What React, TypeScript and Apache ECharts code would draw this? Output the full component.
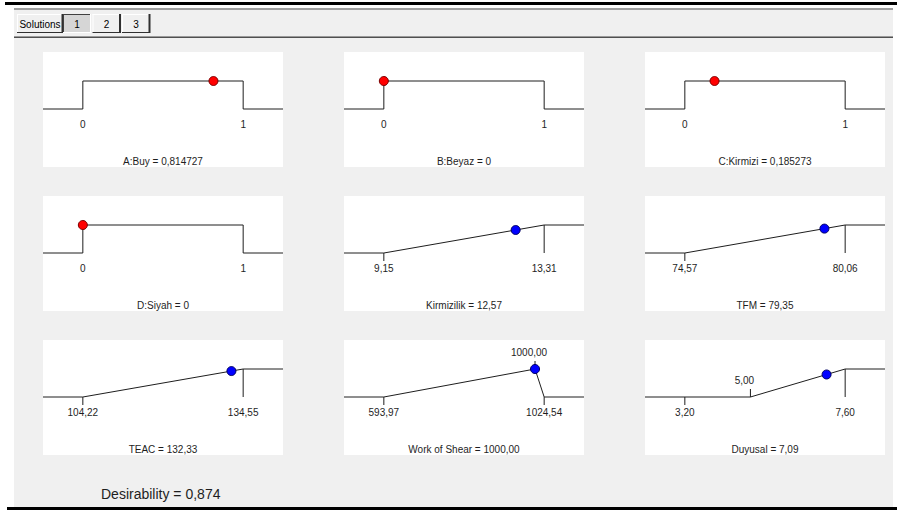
import React, { useEffect, useRef } from "react";
import * as echarts from "echarts";

// Optimisation result: one ramp per factor / response
const panelNames = ["A:Buy", "B:Beyaz", "C:Kirmizi", "D:Siyah", "Kirmizilik", "TFM", "TEAC", "Work of Shear", "Duyusal"];
const isFactor = [true, true, true, true, false, false, false, false, false];
const rangeLow = [0, 0, 0, 0, 9.15, 74.57, 104.22, 593.97, 3.2];
const rangeHigh = [1, 1, 1, 1, 13.31, 80.06, 134.55, 1024.54, 7.6];
const goalTypes = ["in range", "in range", "in range", "in range", "maximize", "maximize", "maximize", "target", "maximize"];
const goalLower = [0, 0, 0, 0, 9.15, 74.57, 104.22, 593.97, 5.0];
const goalUpper = [1, 1, 1, 1, 13.31, 80.06, 134.55, 1024.54, 7.6];
const goalTarget: (number | null)[] = [null, null, null, null, null, null, null, 1000.0, null];
const solutionValues = [0.814727, 0, 0.185273, 0, 12.57, 79.35, 132.33, 1000.0, 7.09];
const overallDesirability = 0.874;
const solutionTabs = ["1", "2", "3"];
const activeTab = 0;

// panel layout
const PANEL_COLS = [43, 344, 645];
const PANEL_ROWS = [52, 196, 340];
const PANEL_W = 240;
const PANEL_H = 115;
const BASE_Y = 57; // row of d = 0 inside a panel
const TOP_Y = 29; // row of d = 1 inside a panel
const LEAD = 40; // px from panel edge to range low
const SPAN = 161; // px between range low and range high
const UNIT = BASE_Y - TOP_Y;
const TICK = 8 / UNIT;

const FONT = '"Liberation Sans", Arial, sans-serif';
const INK = "#1e1e1e";

const comma = (s: string) => s.replace(".", ",");
const fmtValue = (i: number, v: number) => (isFactor[i] ? comma(String(v)) : comma(v.toFixed(2)));

const clamp01 = (v: number) => Math.max(0, Math.min(1, v));

function desirabilityOf(i: number, v: number): number {
  const L = goalLower[i];
  const U = goalUpper[i];
  if (goalTypes[i] === "in range") return v >= L && v <= U ? 1 : 0;
  if (goalTypes[i] === "maximize") return clamp01((v - L) / (U - L));
  const T = goalTarget[i] as number;
  return v <= T ? clamp01((v - L) / (T - L)) : clamp01((U - v) / (U - T));
}

function buildOption() {
  const grid: any[] = [];
  const xAxis: any[] = [];
  const yAxis: any[] = [];
  const series: any[] = [];
  const graphic: any[] = [];

  // window frame and toolbar
  graphic.push(
    { type: "rect", z: -20, shape: { x: 5, y: 2, width: 892, height: 3 }, style: { fill: "#000" } },
    { type: "rect", z: -20, shape: { x: 14, y: 8, width: 879, height: 2 }, style: { fill: "#a0a0a0" } },
    { type: "rect", z: -20, shape: { x: 14, y: 10, width: 879, height: 26 }, style: { fill: "#f0f0f0" } },
    { type: "rect", z: -20, shape: { x: 14, y: 36, width: 879, height: 1 }, style: { fill: "#9a9a9a" } },
    { type: "rect", z: -20, shape: { x: 14, y: 37, width: 879, height: 1 }, style: { fill: "#505050" } },
    { type: "rect", z: -20, shape: { x: 14, y: 38, width: 879, height: 469 }, style: { fill: "#f0f0f0" } },
    { type: "rect", z: -20, shape: { x: 7, y: 507, width: 890, height: 3 }, style: { fill: "#000" } }
  );

  const button = (x: number, y: number, w: number, h: number, label: string, pressed: boolean) => {
    const light = pressed ? "#404040" : "#ffffff";
    const dark = pressed ? "#ffffff" : "#303030";
    graphic.push(
      { type: "rect", z: -10, shape: { x, y, width: w, height: h }, style: { fill: pressed ? "#d6d6d6" : "#f0f0f0" } },
      { type: "line", z: -9, shape: { x1: x, y1: y + 0.5, x2: x + w, y2: y + 0.5 }, style: { stroke: light, lineWidth: 1 } },
      { type: "line", z: -9, shape: { x1: x + 0.5, y1: y, x2: x + 0.5, y2: y + h }, style: { stroke: light, lineWidth: 1 } },
      { type: "line", z: -9, shape: { x1: x, y1: y + h - 0.5, x2: x + w, y2: y + h - 0.5 }, style: { stroke: dark, lineWidth: 1 } },
      { type: "line", z: -9, shape: { x1: x + w - 0.5, y1: y, x2: x + w - 0.5, y2: y + h }, style: { stroke: dark, lineWidth: pressed ? 1 : 2 } },
      {
        type: "text",
        z: -8,
        x: x + w / 2,
        y: y + h / 2 + 0.5,
        style: { text: label, font: `10px ${FONT}`, fill: "#000", textAlign: "center", align: "center", textVerticalAlign: "middle", verticalAlign: "middle" },
      }
    );
  };
  button(17, 14, 46, 19, "Solutions", false);
  solutionTabs.forEach((t, k) => button(63 + k * 29.5, 14, 28, 19, t, k === activeTab));

  panelNames.forEach((name, i) => {
    const left = PANEL_COLS[i % 3];
    const top = PANEL_ROWS[Math.floor(i / 3)];
    const lo = rangeLow[i];
    const hi = rangeHigh[i];
    const u = (hi - lo) / SPAN;
    const xMin = lo - LEAD * u;
    const xMax = lo + (PANEL_W - LEAD + 1) * u;
    const L = goalLower[i];
    const U = goalUpper[i];
    const T = goalTarget[i];

    grid.push({
      left,
      top,
      width: PANEL_W,
      height: PANEL_H,
      show: true,
      backgroundColor: "#ffffff",
      borderWidth: 0,
      borderColor: "transparent",
      containLabel: false,
      outerBoundsMode: "none",
    });
    // labels sit just under the d = 0 baseline
    xAxis.push({
      gridIndex: i,
      type: "value",
      position: "bottom",
      min: xMin,
      max: xMax,
      axisLine: { show: false, onZero: false },
      axisTick: { show: false },
      splitLine: { show: false },
      axisLabel: {
        customValues: [lo, hi],
        formatter: (v: number) => fmtValue(i, v),
        margin: 10 - (PANEL_H - BASE_Y),
        fontSize: 10,
        fontFamily: FONT,
        color: INK,
        hideOverlap: false,
      },
    });
    yAxis.push({ gridIndex: i, type: "value", show: false, min: -(PANEL_H - BASE_Y) / UNIT, max: 1 + TOP_Y / UNIT });

    // desirability ramp
    let ramp: number[][];
    if (goalTypes[i] === "in range") {
      ramp = [[xMin, 0], [L, 0], [L, 1], [U, 1], [U, 0], [xMax, 0]];
    } else if (goalTypes[i] === "maximize") {
      ramp = [[xMin, 0], [L, 0], [U, 1], [xMax, 1]];
    } else {
      ramp = [[xMin, 0], [L, 0], [T as number, 1], [U, 0], [xMax, 0]];
    }
    const lineBase = {
      type: "line",
      xAxisIndex: i,
      yAxisIndex: i,
      symbol: "none",
      silent: true,
      clip: false,
      lineStyle: { color: INK, width: 1 },
    };
    series.push({ ...lineBase, data: ramp });

    // limit ticks
    const ticks: number[][][] = [];
    const upLabels: { at: number[]; text: string }[] = [];
    if (goalTypes[i] === "maximize") {
      ticks.push([[lo, 0], [lo, -TICK]]);
      if (L > lo) {
        ticks.push([[L, 0], [L, TICK]]);
        upLabels.push({ at: [L, TICK], text: fmtValue(i, L) });
      }
      ticks.push([[U, 1], [U, 0]]);
    } else if (goalTypes[i] === "target") {
      ticks.push([[lo, 0], [lo, -TICK]]);
      ticks.push([[hi, 0], [hi, -TICK]]);
      ticks.push([[T as number, 1], [T as number, 1 + TICK]]);
      upLabels.push({ at: [T as number, 1 + TICK], text: fmtValue(i, T as number) });
    }
    ticks.forEach((seg) => series.push({ ...lineBase, data: seg }));
    if (upLabels.length) {
      series.push({
        type: "scatter",
        xAxisIndex: i,
        yAxisIndex: i,
        symbolSize: 1,
        silent: true,
        itemStyle: { color: "rgba(0,0,0,0)", opacity: 1 },
        label: {
          show: true,
          position: "top",
          distance: 3,
          offset: [-6, 0],
          fontSize: 10,
          fontFamily: FONT,
          color: INK,
          formatter: (p: any) => upLabels[p.dataIndex].text,
        },
        data: upLabels.map((l) => l.at),
      });
    }

    // current solution
    const v = solutionValues[i];
    series.push({
      type: "scatter",
      xAxisIndex: i,
      yAxisIndex: i,
      symbolSize: 9,
      silent: true,
      z: 5,
      itemStyle: isFactor[i]
        ? { color: "#ff0000", borderColor: "#7a0000", borderWidth: 1, opacity: 1 }
        : { color: "#0000ff", borderColor: "#000060", borderWidth: 1, opacity: 1 },
      data: [[v, desirabilityOf(i, v)]],
    });

    graphic.push({
      type: "text",
      z: 10,
      x: left + PANEL_W / 2,
      y: top + 109,
      style: {
        text: `${name} = ${fmtValue(i, v)}`,
        font: `10px ${FONT}`,
        fill: INK,
        textAlign: "center",
        align: "center",
        textVerticalAlign: "middle",
        verticalAlign: "middle",
      },
    });
  });

  graphic.push({
    type: "text",
    z: 10,
    x: 101,
    y: 494,
    style: {
      text: `Desirability = ${comma(overallDesirability.toFixed(3))}`,
      font: `14px ${FONT}`,
      fill: INK,
      textAlign: "left",
      align: "left",
      textVerticalAlign: "middle",
      verticalAlign: "middle",
    },
  });

  return {
    animation: false,
    backgroundColor: "#ffffff",
    grid,
    xAxis,
    yAxis,
    series,
    graphic,
  };
}

export default function App() {
  const ref = useRef<HTMLDivElement>(null);
  useEffect(() => {
    if (!ref.current) return;
    const chart = echarts.init(ref.current, null, { renderer: "svg" });
    chart.setOption(buildOption() as any);
    return () => chart.dispose();
  }, []);
  return <div ref={ref} style={{ position: "fixed", left: 0, top: 0, width: 897, height: 512 }} />;
}
